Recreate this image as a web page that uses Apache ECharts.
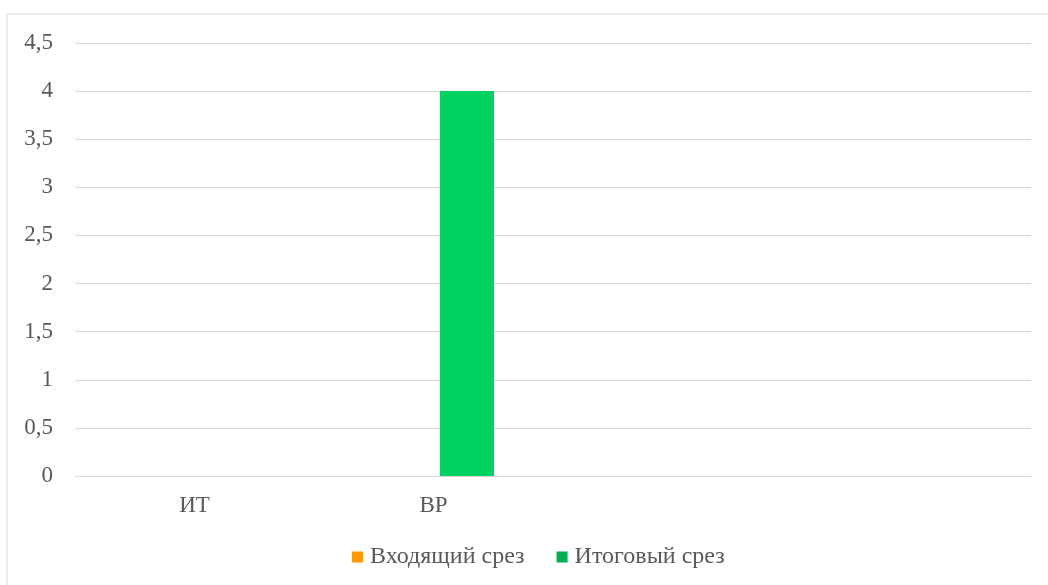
<!DOCTYPE html>
<html>
<head>
<meta charset="utf-8">
<script src="https://cdn.jsdelivr.net/npm/echarts@6/dist/echarts.min.js"></script>
<style>
  html, body { margin: 0; padding: 0; background: #ffffff; }
  #chart { width: 1048px; height: 585px; }
</style>
</head>
<body>
<div id="chart"></div>
<script>
// Categories on the x axis (last two bands are left blank)
const categories = ['ИТ', 'ВР', '', ''];

// Series values
const incomingCut = [0, 0, 0, 0];
const finalCut = [0, 4, 0, 0];

const seriesNames = ['Входящий срез', 'Итоговый срез'];

// Value axis range
const yMin = 0;
const yMax = 4.5;
const yStep = 0.5;

const font = '"Liberation Serif", "Times New Roman", serif';
const fontSize = 23;
const textColor = '#595959';
const gridColor = '#d9d9d9';

const chart = echarts.init(document.getElementById('chart'), null, { renderer: 'canvas' });

chart.setOption({
  animation: false,
  backgroundColor: '#ffffff',
  graphic: [{
    type: 'rect',
    shape: { x: 7, y: 14, width: 1100, height: 620 },
    style: { fill: 'none', stroke: gridColor, lineWidth: 1 },
    silent: true,
    z: -10
  }],
  grid: { left: 75, right: 17, top: 43, bottom: 109, containLabel: false },
  legend: {
    top: 545,
    left: 352,
    padding: 0,
    itemWidth: 11,
    itemHeight: 11,
    itemGap: 32,
    icon: 'rect',
    textStyle: { fontFamily: font, fontSize: 24, color: textColor, padding: [0, 0, 0, 2] },
    data: [
      { name: seriesNames[0], itemStyle: { color: '#ff9900' } },
      { name: seriesNames[1], itemStyle: { color: '#00b050' } }
    ]
  },
  xAxis: {
    type: 'category',
    data: categories,
    axisLine: { show: true, lineStyle: { color: gridColor, width: 1 } },
    axisTick: { show: false },
    axisLabel: { margin: 18, fontFamily: font, fontSize: fontSize, color: textColor }
  },
  yAxis: {
    type: 'value',
    min: yMin,
    max: yMax,
    interval: yStep,
    axisLine: { show: false },
    axisTick: { show: false },
    splitLine: { lineStyle: { color: gridColor, width: 1 } },
    axisLabel: {
      margin: 22,
      fontFamily: font,
      fontSize: fontSize,
      color: textColor,
      formatter: v => String(v).replace('.', ',')
    }
  },
  series: [
    {
      name: seriesNames[0],
      type: 'bar',
      data: incomingCut,
      barWidth: 54,
      barGap: '24%',
      itemStyle: { color: '#ff9900' }
    },
    {
      name: seriesNames[1],
      type: 'bar',
      data: finalCut,
      barWidth: 54,
      barGap: '24%',
      itemStyle: { color: '#00d161' }
    }
  ]
});
</script>
</body>
</html>
